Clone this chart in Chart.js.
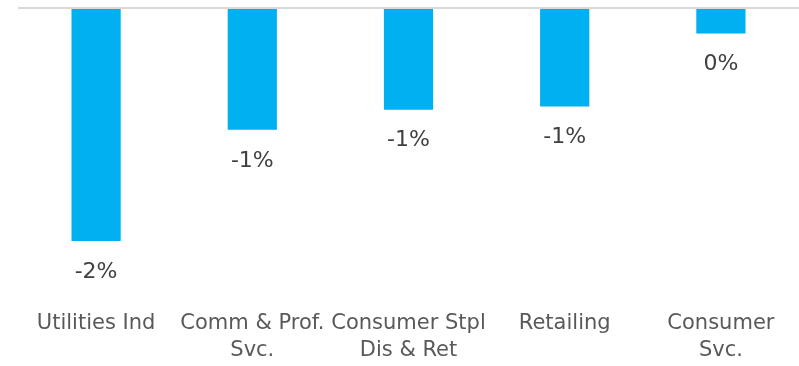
<html>
	<head>
		<title>Sector returns</title>
		<script src="https://cdn.jsdelivr.net/npm/chart.js@4/dist/chart.umd.min.js"></script>
		<style>
			body { margin: 0; background: #fff; }
			.chart { width: 799px; height: 366px; }
		</style>
	</head>
	<body>
	<div class="chart">
		<canvas id="myChart"></canvas>
	</div>
	<script>
		var sectors = [
			'Utilities Ind',
			['Comm & Prof.', 'Svc.'],
			['Consumer Stpl', 'Dis & Ret'],
			'Retailing',
			['Consumer', 'Svc.']
		];
		var returns = [-2.2, -1.15, -0.96, -0.93, -0.24];
		var axisMin = -2.75;
		var axisMax = 0;

		var fontName = 'DejaVu Sans';

		// writes the rounded percentage under the end of each bar
		var barLabels = {
			id: 'barLabels',
			afterDatasetsDraw: function (chart) {
				var ctx = chart.ctx;
				var meta = chart.getDatasetMeta(0);
				ctx.save();
				ctx.font = '22px "' + fontName + '"';
				ctx.fillStyle = '#404040';
				ctx.textAlign = 'center';
				ctx.textBaseline = 'middle';
				meta.data.forEach(function (bar, i) {
					var v = Math.round(chart.data.datasets[0].data[i]);
					ctx.fillText(String(v) + '%', bar.x, bar.y + 31);
				});
				ctx.restore();
			}
		};

		var ctx = document.getElementById('myChart').getContext('2d');
		var myChart = new Chart(ctx, {
			type: 'bar',
			data: {
				labels: sectors,
				datasets: [{
					data: returns,
					backgroundColor: '#00B0F0',
					borderWidth: 0,
					categoryPercentage: 1,
					barPercentage: 0.315
				}]
			},
			options: {
				responsive: true,
				maintainAspectRatio: false,
				animation: false,
				layout: {
					padding: { left: 18, right: 0, top: 8, bottom: 0 }
				},
				plugins: {
					legend: { display: false },
					tooltip: { enabled: false }
				},
				scales: {
					x: {
						grid: { display: false },
						border: { display: false },
						ticks: {
							color: '#595959',
							padding: 2,
							maxRotation: 0,
							autoSkip: false,
							font: { family: fontName, size: 21, lineHeight: 1.3 }
						}
					},
					y: {
						min: axisMin,
						max: axisMax,
						border: { display: false },
						grid: {
							drawTicks: false,
							lineWidth: 2,
							color: function (c) {
								return c.tick.value === 0 ? '#d9d9d9' : 'rgba(0,0,0,0)';
							}
						},
						ticks: { display: false, stepSize: 1 }
					}
				}
			},
			plugins: [barLabels]
		});
	</script>
	</body>
</html>
